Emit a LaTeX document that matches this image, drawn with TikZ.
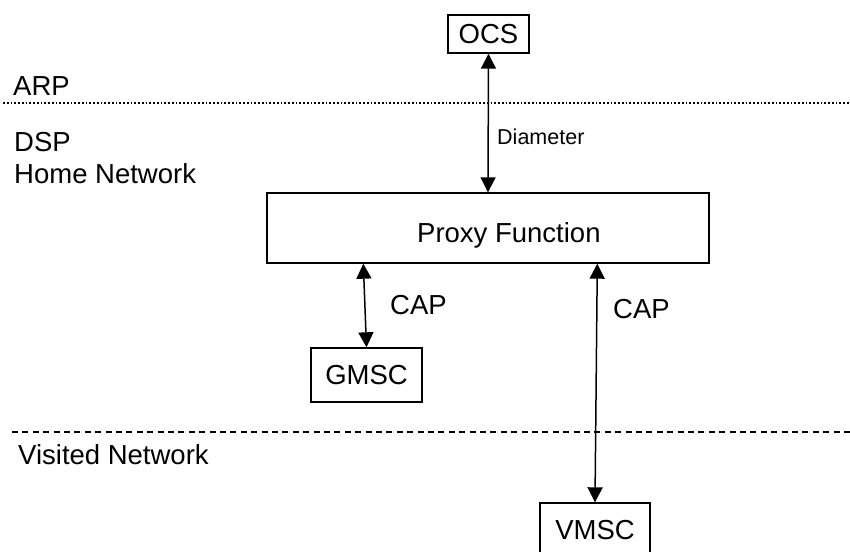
\documentclass[tikz,border=0pt]{standalone}
\usepackage{fontspec}
\setmainfont{Liberation Sans}
\usetikzlibrary{arrows.meta,calc}
\begin{document}
\begin{tikzpicture}[x=1pt,y=-1pt,
  big/.style={font=\fontsize{27.5}{33}\selectfont},
  small/.style={font=\fontsize{21.5}{26}\selectfont},
  box/.style={draw,line width=1.4pt,inner sep=0pt,big,align=center},
  lbl/.style={anchor=base west,inner sep=0pt,big},
  link/.style={line width=1.5pt,{Triangle[length=15pt,width=15pt]}-{Triangle[length=15pt,width=15pt]}},
  dotline/.style={line width=1.2pt,dash pattern=on 1.8pt off 1.95pt},
  dashline/.style={line width=1.3pt,dash pattern=on 6pt off 4.4pt}]
\useasboundingbox (0,0) rectangle (850,551);
\clip (0,0) rectangle (850,551);
% boundary lines
\coordinate (dotL) at (3,103);
\coordinate (dotR) at (850,103);
\coordinate (dashL) at (12,432);
\coordinate (dashR) at (850,432);
\draw[dotline] (dotL) -- (dotR);
\draw[dashline] (dashL) -- (dashR);
% domain labels
\node[lbl] (arp) at (13,95) {ARP};
\node[lbl] (dsp) at (14,151) {DSP};
\node[lbl] (home) at (14,183) {Home Network};
\node[lbl] (visited) at (18,464) {Visited Network};
% boxes
\node[box,minimum width=81pt,minimum height=38pt] (ocs) at (488.5,34) {OCS};
\node[draw,line width=1.4pt,minimum width=442pt,minimum height=70pt] (pf) at (488,228) {};
\node[lbl] (pflabel) at (417,242) {Proxy Function};
\node[box,minimum width=111pt,minimum height=54pt] (gmsc) at (366.5,375) {GMSC};
\node[box,minimum width=110pt,minimum height=54pt] (vmsc) at (595,530) {VMSC};
% connectors
\draw[link] (ocs.south) -- (pf.north);
\draw[link] ($(pf.south west)+(97,0)$) -- (gmsc.north);
\draw[link] ($(pf.south west)+(331,0)$) -- (vmsc.north);
% interface labels
\node[anchor=base west,inner sep=0pt,small] (diam) at (497,144) {Diameter};
\node[lbl] (cap1) at (390,314) {CAP};
\node[lbl] (cap2) at (613,318) {CAP};
\end{tikzpicture}
\end{document}
